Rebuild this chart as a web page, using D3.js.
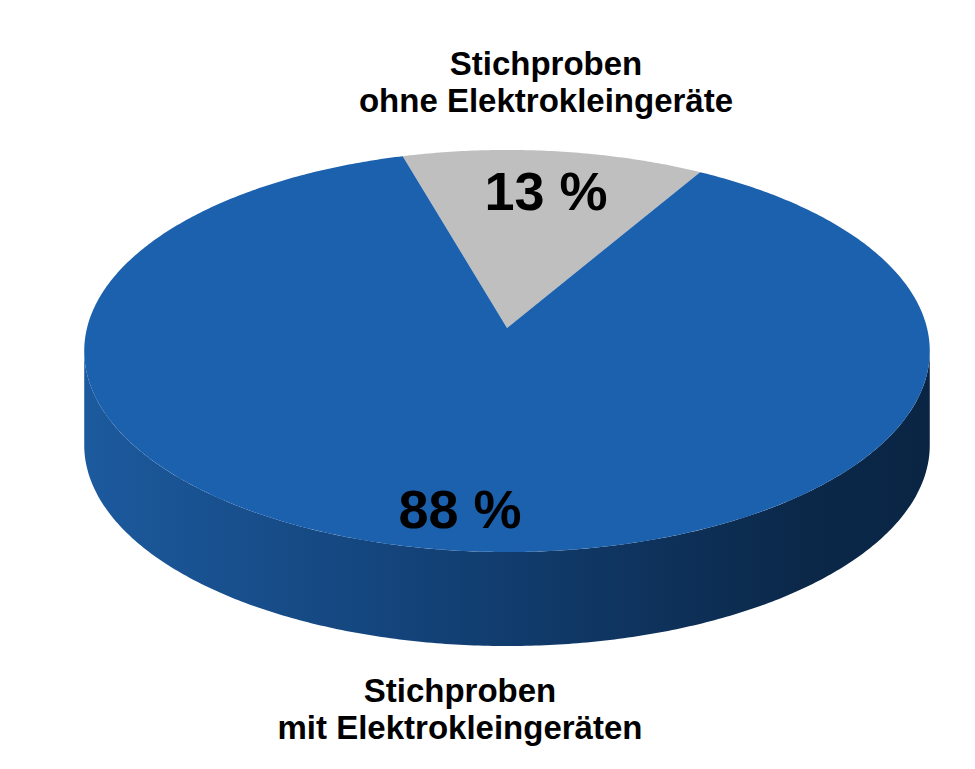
<!DOCTYPE html>
<html>
<head>
<meta charset="utf-8">
<script src="https://cdn.jsdelivr.net/npm/d3@7"></script>
<style>
  body { margin: 0; background: #fff; }
  text { font-family: "Liberation Sans", Arial, sans-serif; font-weight: bold; fill: #000; }
</style>
</head>
<body>
<script>
// chart data
var categories = [
    ["Stichproben", "ohne Elektrokleingeräte"],
    ["Stichproben", "mit Elektrokleingeräten"]
];
var values = [13, 88];
var valueLabels = ["13 %", "88 %"];
var colors = ["#bfbfbf", "#1c61ad"];

var width = 975,
    height = 769;

// projected pie: centre of the disc, radii, perspective factor, thickness
var cx = 507, cy = 328,
    A = 420, B = 198.4,
    k = 0.1144,
    depth = 94;

var svg = d3.select("body").append("svg")
    .attr("width", width)
    .attr("height", height);

var start = -16 * Math.PI / 180;
var pie = d3.pie()
    .sort(null)
    .startAngle(start)
    .endAngle(start + 2 * Math.PI);

var arcs = pie(values);

// angle on the disc -> screen point (perspective from the front)
function proj(a, dy) {
    var u = Math.sin(a), v = Math.cos(a), w = 1 + k * v;
    return [cx + A * u / w, cy - B * v / w + (dy || 0)];
}

function rim(a0, a1, dy) {
    var n = Math.max(8, Math.ceil(Math.abs(a1 - a0) / 0.01));
    return d3.range(n + 1).map(function(i) {
        return proj(a0 + (a1 - a0) * i / n, dy);
    });
}

var line = d3.line();

// gradient for the visible side wall
var grad = svg.append("defs").append("linearGradient")
    .attr("id", "side")
    .attr("gradientUnits", "userSpaceOnUse")
    .attr("x1", 84).attr("x2", 930)
    .attr("y1", 0).attr("y2", 0);
grad.append("stop").attr("offset", 0).attr("stop-color", "#1c5a9e");
grad.append("stop").attr("offset", 0.45).attr("stop-color", "#123f73");
grad.append("stop").attr("offset", 0.85).attr("stop-color", "#0b2849");
grad.append("stop").attr("offset", 1).attr("stop-color", "#0a2544");

// side wall: the front part of the big slice, between the silhouette angles
var big = arcs[1];
var s0 = Math.max(big.startAngle, Math.acos(-k)),
    s1 = Math.min(big.endAngle, 2 * Math.PI - Math.acos(-k));
var sidePts = rim(s0, s1, 0).concat(rim(s1, s0, depth));
svg.append("path")
    .attr("d", line(sidePts) + "Z")
    .attr("fill", "url(#side)");

// top faces
svg.selectAll("path.slice")
    .data(arcs)
    .enter().append("path")
    .attr("class", "slice")
    .attr("fill", function(d, i) { return colors[i]; })
    .attr("d", function(d) {
        return line([[cx, cy]].concat(rim(d.startAngle, d.endAngle, 0))) + "Z";
    });

// value labels
var valuePos = [[546, 210], [460, 528]];
svg.selectAll("text.value")
    .data(valueLabels)
    .enter().append("text")
    .attr("class", "value")
    .attr("x", function(d, i) { return valuePos[i][0]; })
    .attr("y", function(d, i) { return valuePos[i][1]; })
    .attr("text-anchor", "middle")
    .style("font-size", "54px")
    .text(function(d) { return d; });

// category labels
var catPos = [[546, 75], [460, 702]];
categories.forEach(function(lines, i) {
    var t = svg.append("text")
        .attr("text-anchor", "middle")
        .style("font-size", "33px");
    lines.forEach(function(l, j) {
        t.append("tspan")
            .attr("x", catPos[i][0])
            .attr("y", catPos[i][1] + j * 37)
            .text(l);
    });
});
</script>
</body>
</html>
